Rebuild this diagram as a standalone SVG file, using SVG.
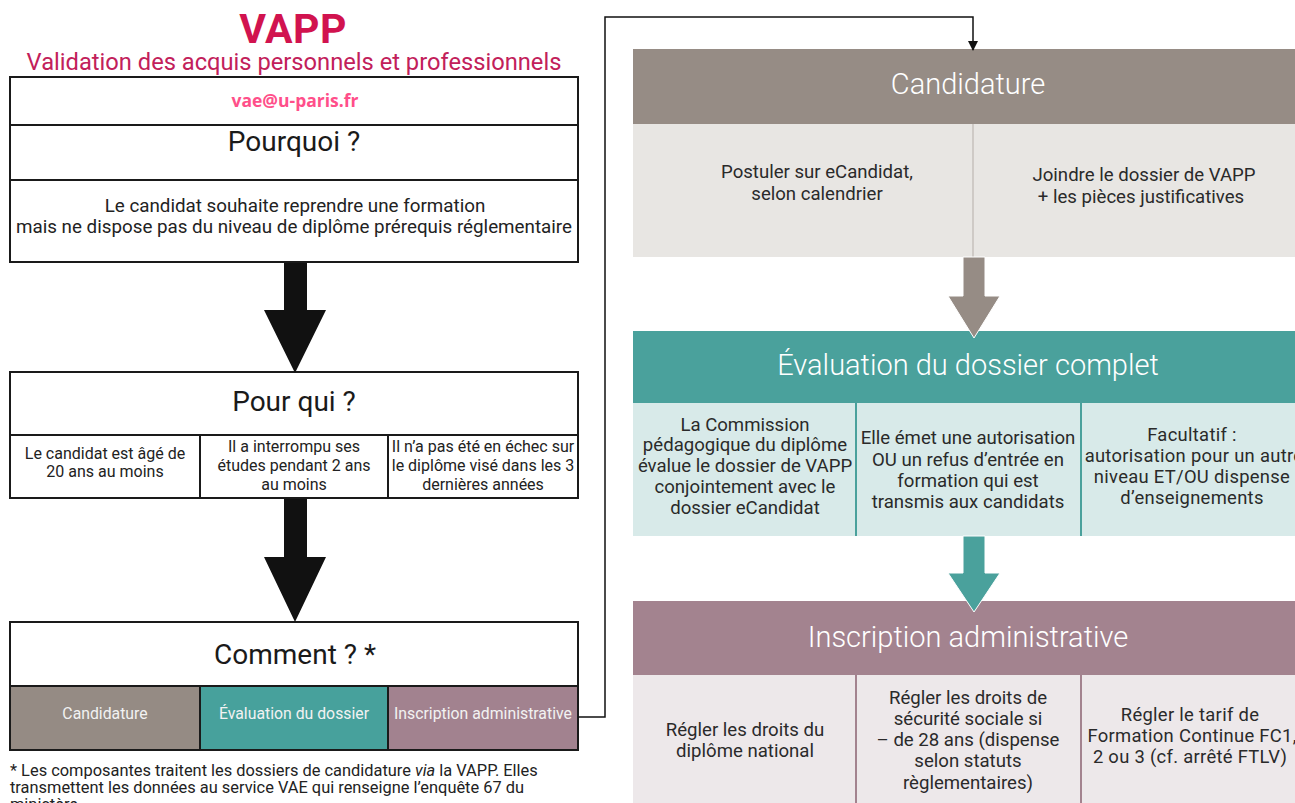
<svg xmlns="http://www.w3.org/2000/svg" width="1295" height="803" viewBox="0 0 1295 803">
<defs>
<style>
text{font-family:Roboto,"Liberation Sans",sans-serif;}
.box{fill:#fff;stroke:#1a1a1a;stroke-width:2;}
.h{font-size:28px;fill:#1a1a1a;text-anchor:middle;}
.t{font-size:18.8px;fill:#222;text-anchor:middle;}
.s{font-size:16px;fill:#222;text-anchor:middle;}
.w{font-size:15.8px;fill:#f2f2f2;text-anchor:middle;}
.rh{font-size:29px;fill:#fff;text-anchor:middle;font-weight:300;}
.r{font-size:18.6px;fill:#2a2a2a;text-anchor:middle;}
.o{font-size:18.4px;fill:#2a2a2a;text-anchor:middle;letter-spacing:0.3px;}
</style>
<marker id="ah" markerWidth="10" markerHeight="10" refX="9" refY="5" orient="auto" markerUnits="userSpaceOnUse">
<path d="M0,0 L10,5 L0,10 z" fill="#111"/>
</marker>
</defs>
<rect width="1295" height="803" fill="#fff"/>

<g id="title">
<text x="293" y="43" text-anchor="middle" font-size="41" font-weight="bold" fill="#d1134f" letter-spacing="0.5">VAPP</text>
<text x="294" y="70" text-anchor="middle" font-size="23.7" fill="#c2205a">Validation des acquis personnels et professionnels</text>
</g>

<g id="email">
<rect class="box" x="10" y="77" width="568" height="48"/>
<text x="295" y="107" text-anchor="middle" font-size="17.5" font-weight="bold" fill="#ff4f8a" style="font-family:'Open Sans',Lato,sans-serif">vae@u-paris.fr</text>
</g>

<g id="pourquoi">
<rect class="box" x="10" y="125" width="568" height="55"/>
<rect class="box" x="10" y="180" width="568" height="82"/>
<text class="h" x="294" y="151">Pourquoi ?</text>
<text class="t" x="295" y="212">Le candidat souhaite reprendre une formation</text>
<text class="t" x="294" y="233">mais ne dispose pas du niveau de diplôme prérequis réglementaire</text>
</g>

<g id="pourqui">
<rect class="box" x="10" y="372" width="568" height="63"/>
<rect class="box" x="10" y="435" width="190" height="63"/>
<rect class="box" x="200" y="435" width="188" height="63"/>
<rect class="box" x="388" y="435" width="190" height="63"/>
<text class="h" x="294" y="411">Pour qui ?</text>
<text class="s" x="105" y="459">Le candidat est âgé de</text>
<text class="s" x="105" y="477">20 ans au moins</text>
<text class="s" x="294" y="452">Il a interrompu ses</text>
<text class="s" x="294" y="471">études pendant 2 ans</text>
<text class="s" x="294" y="490">au moins</text>
<text class="s" x="483" y="452">Il n’a pas été en échec sur</text>
<text class="s" x="483" y="471">le diplôme visé dans les 3</text>
<text class="s" x="483" y="490">dernières années</text>
</g>

<g id="comment">
<rect class="box" x="10" y="622" width="568" height="64"/>
<rect x="10" y="686" width="190" height="64" fill="#958b84" stroke="#1a1a1a" stroke-width="2"/>
<rect x="200" y="686" width="188" height="64" fill="#47a19c" stroke="#1a1a1a" stroke-width="2"/>
<rect x="388" y="686" width="190" height="64" fill="#a2828f" stroke="#1a1a1a" stroke-width="2"/>
<text class="h" x="295" y="664">Comment ? *</text>
<text class="w" x="105" y="719">Candidature</text>
<text class="w" x="294" y="719">Évaluation du dossier</text>
<text class="w" x="483" y="719">Inscription administrative</text>
</g>

<g id="footnote" font-size="16.4" fill="#222">
<text x="10" y="776">* Les composantes traitent les dossiers de candidature <tspan font-style="italic">via</tspan> la VAPP. Elles</text>
<text x="10" y="793">transmettent les données au service VAE qui renseigne l’enquête 67 du</text>
<text x="10" y="810">ministère.</text>
</g>

<g id="candidature">
<rect x="633" y="49" width="662" height="75" fill="#968c85"/>
<rect x="633" y="124" width="662" height="133" fill="#e8e6e3"/>
<line x1="973" y1="124" x2="973" y2="257" stroke="#b5aea9" stroke-width="1"/>
<text class="rh" x="968" y="94">Candidature</text>
<text class="r" x="817" y="178">Postuler sur eCandidat,</text>
<text class="r" x="817" y="200">selon calendrier</text>
<text class="r" x="1144" y="181">Joindre le dossier de VAPP</text>
<text class="r" x="1141" y="203">+ les pièces justificatives</text>
</g>

<g id="evaluation">
<rect x="633" y="331" width="662" height="72" fill="#4aa19c"/>
<rect x="633" y="403" width="662" height="133" fill="#d8eae9"/>
<line x1="856" y1="403" x2="856" y2="536" stroke="#4aa19c" stroke-width="2"/>
<line x1="1081" y1="403" x2="1081" y2="536" stroke="#4aa19c" stroke-width="2"/>
<text class="rh" x="968" y="375">Évaluation du dossier complet</text>
<text class="r" x="745" y="431">La Commission</text>
<text class="r" x="745" y="451">pédagogique du diplôme</text>
<text class="r" x="745" y="472">évalue le dossier de VAPP</text>
<text class="r" x="745" y="493">conjointement avec le</text>
<text class="r" x="745" y="514">dossier eCandidat</text>
<text class="r" x="968" y="444">Elle émet une autorisation</text>
<text class="r" x="968" y="466">OU un refus d’entrée en</text>
<text class="r" x="968" y="487">formation qui est</text>
<text class="r" x="968" y="508">transmis aux candidats</text>
<text class="o" x="1192" y="441">Facultatif :</text>
<text class="o" x="1194" y="462">autorisation pour un autre</text>
<text class="o" x="1192" y="483">niveau ET/OU dispense</text>
<text class="o" x="1192" y="504">d’enseignements</text>
</g>

<g id="inscription">
<rect x="633" y="601" width="662" height="74" fill="#a3838f"/>
<rect x="633" y="675" width="662" height="128" fill="#ede8ea"/>
<line x1="856" y1="675" x2="856" y2="803" stroke="#a3838f" stroke-width="2"/>
<line x1="1081" y1="675" x2="1081" y2="803" stroke="#a3838f" stroke-width="2"/>
<text class="rh" x="968" y="647">Inscription administrative</text>
<text class="r" x="745" y="736">Régler les droits du</text>
<text class="r" x="745" y="757">diplôme national</text>
<text class="r" x="968" y="704">Régler les droits de</text>
<text class="r" x="968" y="725">sécurité sociale si</text>
<text class="r" x="968" y="746">– de 28 ans (dispense</text>
<text class="r" x="968" y="767">selon statuts</text>
<text class="r" x="968" y="789">règlementaires)</text>
<text class="o" x="1190" y="721">Régler le tarif de</text>
<text class="o" x="1192" y="742">Formation Continue FC1,</text>
<text class="o" x="1190" y="763">2 ou 3 (cf. arrêté FTLV)</text>
</g>

<g id="connectors">
<polygon points="284,263 307,263 307,310 326,310 295,373 264,310 284,310" fill="#111"/>
<polygon points="284,499 307,499 307,557 326,557 295,622 264,557 284,557" fill="#111"/>
<polygon points="963,257 985,257 985,296 1000,296 974,338 948,296 963,296" fill="#968c85" stroke="#fff" stroke-width="1"/>
<polygon points="963,536 985,536 985,573 1000,573 974,612 948,573 963,573" fill="#4aa19c" stroke="#fff" stroke-width="1"/>
<polyline points="578,717 605,717 605,17 973,17 973,50" fill="none" stroke="#111" stroke-width="1.5" marker-end="url(#ah)"/>
</g>
</svg>
